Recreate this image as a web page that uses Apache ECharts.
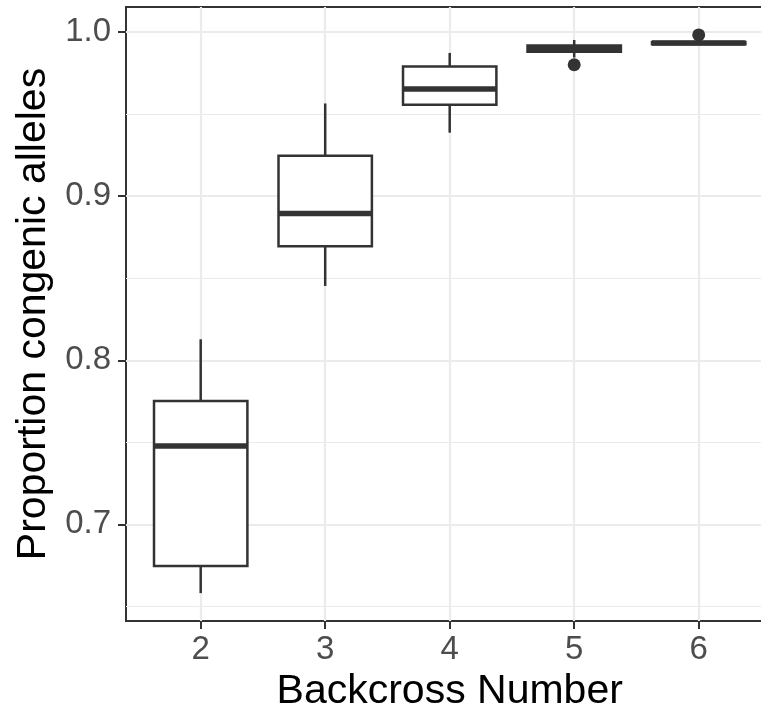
<!DOCTYPE html>
<html>
<head>
<meta charset="utf-8">
<script src="https://cdn.jsdelivr.net/npm/echarts@6/dist/echarts.min.js"></script>
<style>
  html, body { margin: 0; padding: 0; background: #fff; }
  #chart { width: 761px; height: 710px; }
</style>
</head>
<body>
<div id="chart"></div>
<script>
// backcross generations
var categories = [2, 3, 4, 5, 6];
// box statistics
var lowWhisker = [0.6581, 0.8453, 0.9387, 0.9845, 0.9926];
var q1 = [0.6746, 0.8695, 0.9557, 0.9880, 0.9926];
var median = [0.7477, 0.8894, 0.9653, 0.9898, 0.9933];
var q3 = [0.7752, 0.9246, 0.9791, 0.9919, 0.9940];
var highWhisker = [0.8128, 0.9565, 0.9873, 0.9952, 0.9940];
// outlier points [generation, proportion]
var outliers = [[5, 0.9801], [6, 0.9983]];

var yTicks = [0.7, 0.8, 0.9, 1.0];
var yMinor = [0.65, 0.75, 0.85, 0.95];

var fontFam = '"Liberation Sans", Arial, Helvetica, sans-serif';
var dark = '#333333';
var gridCol = '#ebebeb';

var boxData = categories.map(function (c, i) {
  return [c, lowWhisker[i], q1[i], median[i], q3[i], highWhisker[i]];
});

var gridLines = [];
yTicks.forEach(function (v) { gridLines.push({ yAxis: v, lineStyle: { width: 2.2 } }); });
yMinor.forEach(function (v) { gridLines.push({ yAxis: v, lineStyle: { width: 1.1 } }); });
categories.forEach(function (v) { gridLines.push({ xAxis: v, lineStyle: { width: 2.2 } }); });

var myChart = echarts.init(document.getElementById('chart'), null, { renderer: 'canvas' });

var option = {
  animation: false,
  backgroundColor: '#ffffff',
  grid: {
    left: 126,
    top: 7,
    bottom: 89,
    right: -12.4,
    show: true,
    borderColor: dark,
    borderWidth: 2,
    backgroundColor: 'transparent',
    outerBoundsMode: 'none'
  },
  xAxis: {
    type: 'value',
    min: 1.4,
    max: 6.6,
    splitLine: { show: false },
    axisLine: { show: true, onZero: false, lineStyle: { color: dark, width: 2 } },
    axisTick: { show: true, length: 8, lineStyle: { color: dark, width: 2 }, customValues: categories },
    axisLabel: {
      customValues: categories,
      color: '#4d4d4d',
      fontSize: 33,
      fontFamily: fontFam,
      margin: 12
    },
    name: 'Backcross Number',
    nameLocation: 'middle',
    nameGap: 45,
    nameTextStyle: { color: '#000', fontSize: 41, fontFamily: fontFam }
  },
  yAxis: {
    type: 'value',
    min: 0.6411,
    max: 1.0153,
    splitLine: { show: false },
    axisLine: { show: true, onZero: false, lineStyle: { color: dark, width: 2 } },
    axisTick: { show: true, length: 8, lineStyle: { color: dark, width: 2 }, customValues: yTicks },
    axisLabel: {
      customValues: yTicks,
      formatter: function (v) { return v.toFixed(1); },
      color: '#4d4d4d',
      fontSize: 33,
      fontFamily: fontFam,
      margin: 15
    },
    name: 'Proportion congenic alleles',
    nameLocation: 'middle',
    nameGap: 71,
    nameRotate: 90,
    nameTextStyle: { color: '#000', fontSize: 41, fontFamily: fontFam }
  },
  series: [
    {
      // panel gridlines
      type: 'scatter',
      data: [],
      z: 1,
      silent: true,
      markLine: {
        silent: true,
        z: 1,
        symbol: 'none',
        label: { show: false },
        lineStyle: { color: gridCol, type: 'solid' },
        emphasis: { disabled: true },
        data: gridLines
      }
    },
    {
      type: 'custom',
      z: 8,
      silent: true,
      data: boxData,
      encode: { x: 0, y: [1, 2, 3, 4, 5] },
      renderItem: function (params, api) {
        var x = api.value(0);
        var lo = api.coord([x, api.value(1)]);
        var b1 = api.coord([x - 0.375, api.value(2)]);
        var md = api.coord([x, api.value(3)]);
        var b3 = api.coord([x + 0.375, api.value(4)]);
        var hi = api.coord([x, api.value(5)]);
        return {
          type: 'group',
          children: [
            { type: 'line', shape: { x1: hi[0], y1: hi[1], x2: hi[0], y2: b3[1] }, style: { stroke: dark, lineWidth: 2.5 } },
            { type: 'line', shape: { x1: lo[0], y1: lo[1], x2: lo[0], y2: b1[1] }, style: { stroke: dark, lineWidth: 2.5 } },
            {
              type: 'rect',
              shape: { x: b1[0], y: b3[1], width: b3[0] - b1[0], height: b1[1] - b3[1] },
              style: { fill: '#ffffff', stroke: dark, lineWidth: 2.5 }
            },
            { type: 'line', shape: { x1: b1[0], y1: md[1], x2: b3[0], y2: md[1] }, style: { stroke: dark, lineWidth: 5.5 } }
          ]
        };
      }
    },
    {
      type: 'scatter',
      z: 9,
      silent: true,
      data: outliers,
      symbol: 'circle',
      symbolSize: 13,
      itemStyle: { color: dark, opacity: 1 }
    }
  ]
};
myChart.setOption(option);
</script>
</body>
</html>
